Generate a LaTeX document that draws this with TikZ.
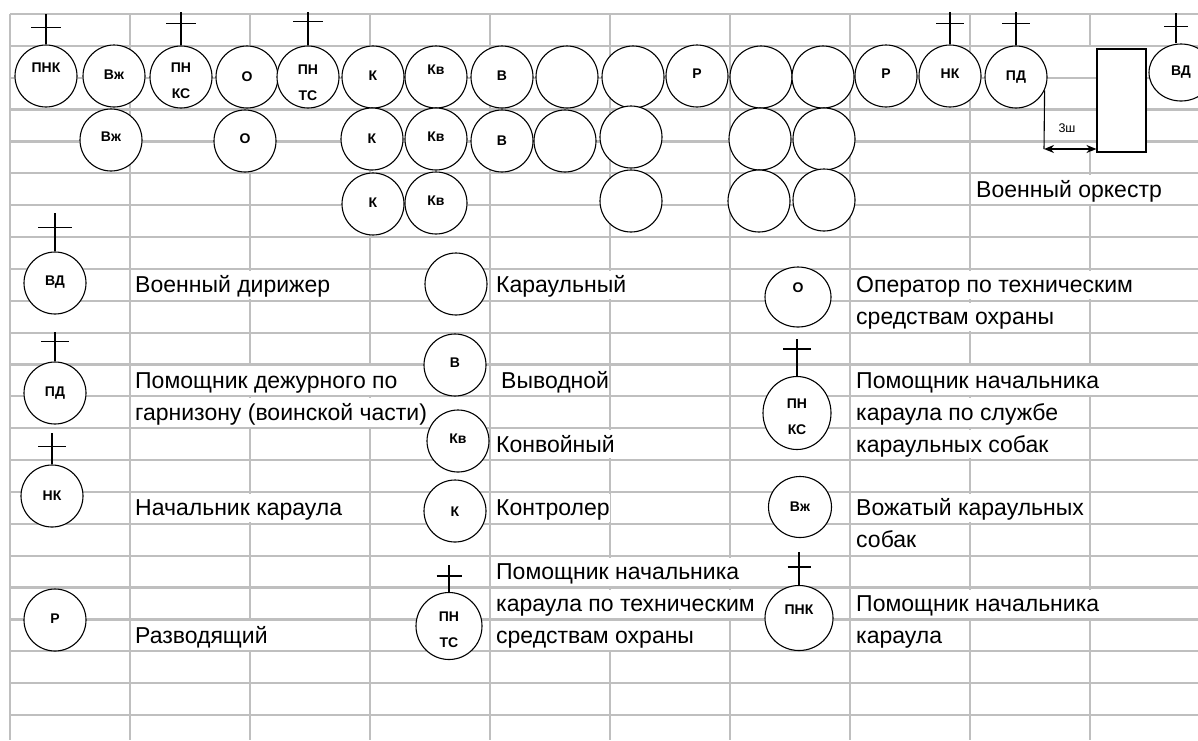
\documentclass[tikz,border=0pt]{standalone}
\usepackage{fontspec}
\setmainfont{Liberation Sans}
\usetikzlibrary{shapes.geometric,arrows.meta}
\newcommand\Pers[6][]{\node[pers,#1] (#2) at (#3,#4) {};\node[plbl] (#2t) at ([yshift=#5]#2.center) {#6};}
\newcommand\Cross[5][0pt]{\draw[crossline] ([xshift=#1]#2.north) -- ++(0,-#3);\draw[crossline] ([xshift=#1,yshift=#4]#2.north) ++(-#5,0) -- ++(2*#5,0);}
\begin{document}
\begin{tikzpicture}[x=1pt,y=-1pt,
 grid/.style={draw=black!25, line width=2.2pt},
 pers/.style={ellipse, draw=black, fill=white, line width=1.1pt, minimum width=62pt, minimum height=62pt, inner sep=0pt},
 plbl/.style={font=\bfseries\fontsize{14}{26}\selectfont, align=center, inner sep=0pt},
 txt/.style={anchor=base west, fill=white, inner sep=0pt, text height=22pt, text depth=6.3pt, font=\fontsize{23}{25}\selectfont},
 crossline/.style={line width=1.1pt},
 boxst/.style={draw=black, fill=white, line width=1.1pt, inner sep=0pt, minimum width=49pt, minimum height=103pt},
 small/.style={font=\fontsize{12.5}{14}\selectfont, inner sep=0pt}
]
\useasboundingbox (0,0) rectangle (1198,740);
\fill[white] (0,0) rectangle (1198,740);
% grid
\foreach \k in {0,...,22} \draw[grid] (10,{14+\k*31.864}) -- (1198,{14+\k*31.864});
\foreach \k in {0,...,8} \draw[grid] ({10+\k*120},14) -- ({10+\k*120},740);
\draw[grid] (1090,14) -- (1090,46);
\draw[grid] (1090,152) -- (1090,740);
% texts
\node[txt] (t1) at (135,292.7) {Военный дирижер};
\node[txt] (t2a) at (135,388.4) {Помощник дежурного по};
\node[txt] (t2b) at (135,420.2) {гарнизону (воинской части)};
\node[txt] (t3) at (135,515.8) {Начальник караула};
\node[txt] (t4) at (135,643.3) {Разводящий};
\node[txt] (t5) at (496,292.7) {Караульный};
\node[txt] (t6) at (501,388.4) {Выводной};
\node[txt] (t7) at (496,452.1) {Конвойный};
\node[txt] (t8) at (496,515.8) {Контролер};
\node[txt] (t9a) at (496,579.6) {Помощник начальника};
\node[txt] (t9b) at (496,611.5) {караула по техническим};
\node[txt] (t9c) at (496,643.3) {средствам охраны};
\node[txt] (t10a) at (856,292.7) {Оператор по техническим};
\node[txt] (t10b) at (856,324.6) {средствам охраны};
\node[txt] (t11a) at (856,388.4) {Помощник начальника};
\node[txt] (t11b) at (856,420.2) {караула по службе};
\node[txt] (t11c) at (856,452.1) {караульных собак};
\node[txt] (t12a) at (856,515.8) {Вожатый караульных};
\node[txt] (t12b) at (856,547.7) {собак};
\node[txt] (t13a) at (856,611.5) {Помощник начальника};
\node[txt] (t13b) at (856,643.3) {караула};
\node[txt] (t14) at (976,197.2) {Военный оркестр};
% top row
\Pers{a1}{46}{76}{8pt}{ПНК}
\Pers{a2}{114}{76}{1pt}{Вж}
\Pers{a3}{181}{77}{-4pt}{ПН\\КС}
\Pers{a4}{247}{77}{0pt}{О}
\Pers{a5}{308}{77}{-6pt}{ПН\\ТС}
\Pers{a6}{373}{77}{1pt}{К}
\Pers{a7}{436}{77}{7pt}{Кв}
\Pers{a8}{502}{77}{1pt}{В}
\Pers{a9}{567}{77}{0pt}{}
\Pers{a10}{633}{77}{0pt}{}
\Pers{a11}{697}{76}{2pt}{Р}
\Pers{a12}{761}{77}{0pt}{}
\Pers{a13}{823}{77}{0pt}{}
\Pers{a14}{886}{76}{2pt}{Р}
\Pers{a15}{950}{76}{2pt}{НК}
\Pers{a16}{1016}{77}{0pt}{ПД}
\Pers[minimum width=64pt,minimum height=57pt]{a17}{1181}{72.5}{0pt}{ВД}
% second row
\Pers{b1}{111}{140}{3pt}{Вж}
\Pers{b2}{245}{141}{2pt}{О}
\Pers{b3}{372}{139}{0pt}{К}
\Pers{b4}{436}{139}{2pt}{Кв}
\Pers{b5}{502}{141}{0pt}{В}
\Pers{b6}{565}{141}{0pt}{}
\Pers{b7}{631}{137}{0pt}{}
\Pers{b8}{760}{139}{0pt}{}
\Pers{b9}{824}{139}{0pt}{}
% third row
\Pers{c1}{373}{204}{1pt}{К}
\Pers{c2}{436}{203}{2pt}{Кв}
\Pers{c3}{631}{201}{0pt}{}
\Pers{c4}{759}{201}{0pt}{}
\Pers{c5}{824}{200}{0pt}{}
% crosses top
\Cross{a1}{30}{17pt}{15}
\Cross{a3}{33}{22pt}{15}
\Cross{a5}{33}{24pt}{15}
\Cross{a15}{32}{21pt}{14}
\Cross{a16}{33}{22pt}{14}
\Cross[-5pt]{a17}{30}{17pt}{12}
% orchestra
\node[boxst] (orch) at (1121.5,100.5) {};
\coordinate (ar) at (1044,149);
\draw[crossline] (a16.-25) -- (ar);
\draw[line width=1.8pt, {Stealth[length=10pt,width=8pt]}-{Stealth[length=10pt,width=8pt]}] (ar) -- (ar -| orch.west);
\node[small] (sh) at (1067,128) {3ш};
% legend
\Pers{l1}{55}{283}{1pt}{ВД}
\Pers{l2}{55}{393}{0pt}{ПД}
\Pers{l3}{52}{496}{0pt}{НК}
\Pers{l4}{55}{620}{1pt}{Р}
\Pers{l5}{456}{284}{0pt}{}
\Pers{l6}{455}{365}{2pt}{В}
\Pers{l7}{458}{441}{2pt}{Кв}
\Pers{l8}{455}{511}{-1pt}{К}
\Pers[minimum width=66pt,minimum height=67pt]{l9}{449}{626}{-4pt}{ПН\\ТС}
\Pers[minimum width=66pt,minimum height=60pt]{l10}{798}{297}{9pt}{О}
\Pers[minimum width=68pt,minimum height=73pt]{l11}{797}{413}{-4pt}{ПН\\КС}
\Pers[minimum width=63pt,minimum height=61pt]{l12}{800}{507}{0pt}{Вж}
\Pers[minimum width=68pt,minimum height=65pt]{l13}{799}{618}{8pt}{ПНК}
\Cross{l1}{38}{24pt}{17}
\Cross{l2}{29}{20pt}{14}
\Cross{l3}{31}{18pt}{14}
\Cross{l9}{27}{16pt}{12.5}
\Cross{l11}{37}{27pt}{14}
\Cross{l13}{33}{18pt}{11.5}
\end{tikzpicture}
\end{document}
